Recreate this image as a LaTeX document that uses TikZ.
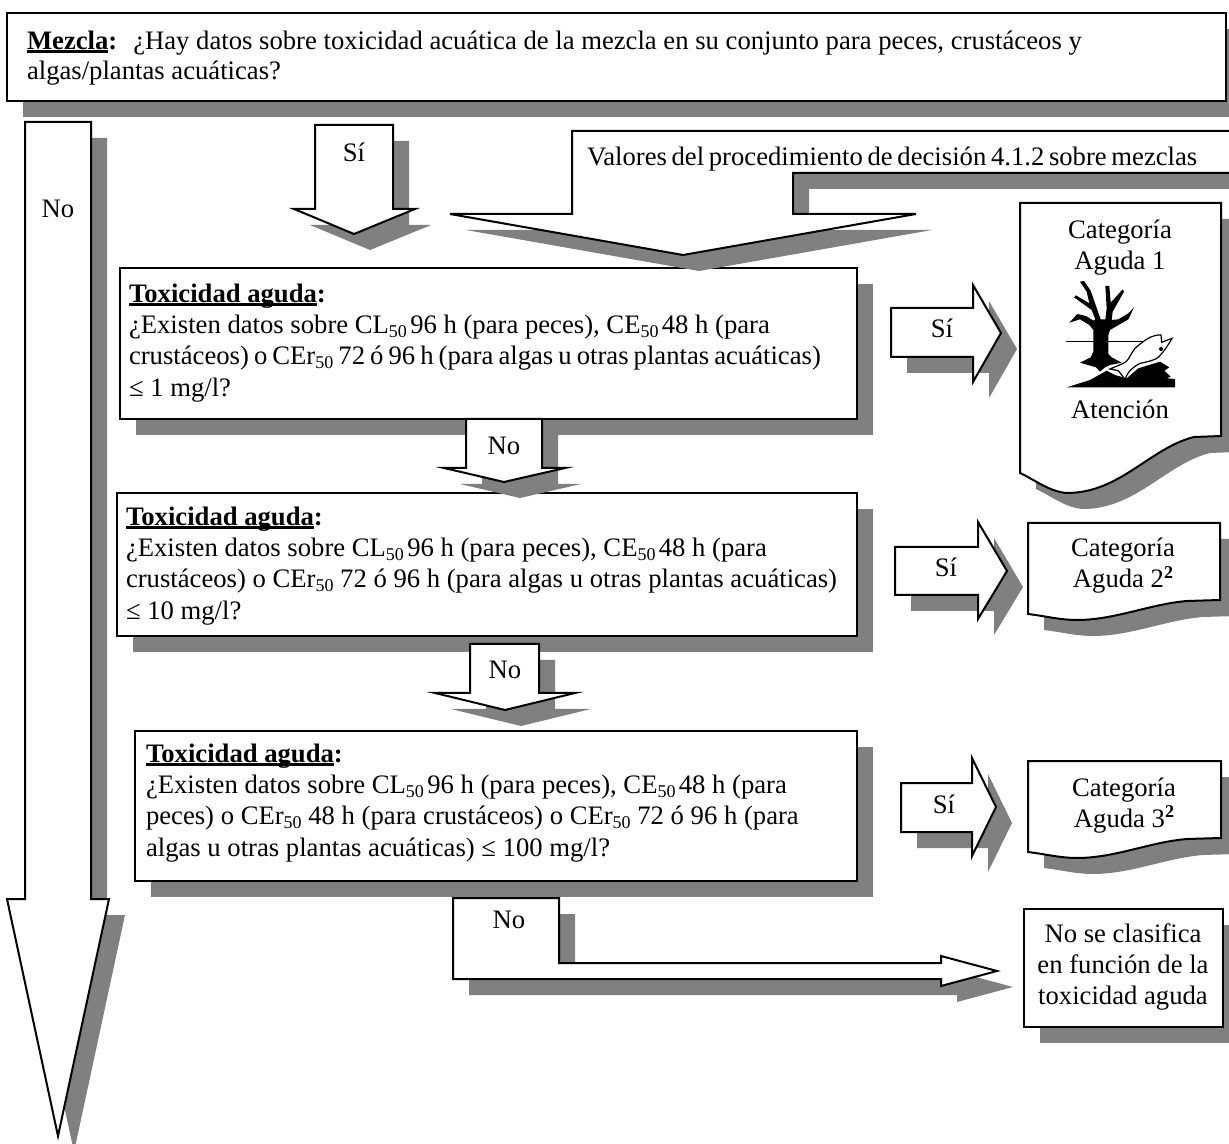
\documentclass[tikz,border=0pt]{standalone}
\usepackage{fontspec}
\setmainfont{Liberation Serif}
\definecolor{shadowc}{RGB}{128,128,128}
\newcommand{\subn}[1]{\raisebox{-0.32ex}{\fontsize{13.5}{13.5}\selectfont #1}}
\newcommand{\supb}[1]{\raisebox{0.8ex}{\fontsize{13.5}{13.5}\selectfont\bfseries #1}}
\newsavebox{\ulbox}
\newcommand{\ulb}[1]{\sbox{\ulbox}{\textbf{#1}}\rlap{\raisebox{-2.3pt}{\rule{\wd\ulbox}{1.8pt}}}\usebox{\ulbox}}
\newcommand{\tox}{\ulb{Toxicidad aguda}\textbf{:}}
\newcommand{\nsp}{\hspace{2.5pt}}
\newcommand{\shadowed}[1]{\fill[shadowc,shift={(16,16)}] #1; \filldraw[shapeline] #1;}
\tikzset{
  shapeline/.style={draw=black,fill=white,line width=1.5pt,line join=miter},
  txt/.style={inner sep=0pt,outer sep=0pt,font=\fontsize{20}{23.4}\selectfont},
  para/.style={txt,align=left,anchor=north west},
  lab/.style={txt,anchor=base,align=center},
}
\begin{document}
\begin{tikzpicture}[x=0.75pt,y=-0.75pt]
\useasboundingbox (0,0) rectangle (1229,1144);
\clip (0,0) rectangle (1229,1144);
\fill[white] (0,0) rectangle (1229,1144);
% boxes
\shadowed{(7,13) rectangle (1226,101)}
\shadowed{(120,268) rectangle (857,419)}
\shadowed{(117,493) rectangle (857,636)}
\shadowed{(135,731) rectangle (857,881)}
\shadowed{(1024,909) rectangle (1223,1027)}
% documents
\shadowed{(1020,203) -- (1221,203) -- (1221,436) -- (1194,437) .. controls (1150,448) and (1120,493) .. (1067,493) .. controls (1050,492) and (1035,480) .. (1020,473) -- cycle}
\shadowed{(1028,523) -- (1220,523) -- (1220,600) -- (1187,601) .. controls (1150,604) and (1115,620) .. (1077,620) .. controls (1060,620) and (1045,616) .. (1028,614) -- cycle}
\shadowed{(1028,761) -- (1221,761) -- (1221,838) -- (1187,839) .. controls (1150,842) and (1115,858) .. (1077,858) .. controls (1060,858) and (1045,854) .. (1028,852) -- cycle}
% arrows
\shadowed{(25,122) -- (91,122) -- (91,899) -- (109,899) -- (58,1136) -- (7,899) -- (25,899) -- cycle}
\shadowed{(315,125) -- (393,125) -- (393,209) -- (415,209) -- (354,234) -- (294,209) -- (315,209) -- cycle}
\fill[shadowc,shift={(16,16)}] (1250,131) -- (572,131) -- (572,214) -- (450,214) -- (683,255) -- (916,214) -- (793,214) -- (793,173) -- (1250,173) -- cycle;
\filldraw[shapeline] (1240,131) -- (572,131) -- (572,214) -- (450,214) -- (683,255) -- (916,214) -- (793,214) -- (793,173) -- (1240,173);
\shadowed{(466,419) -- (542,419) -- (542,468) -- (565,468) -- (504,482) -- (444,468) -- (466,468) -- cycle}
\shadowed{(470,644) -- (539,644) -- (539,693) -- (575,693) -- (505,710) -- (435,693) -- (470,693) -- cycle}
\shadowed{(453,898) -- (559,898) -- (559,963) -- (941,963) -- (941,956) -- (997,971) -- (941,986) -- (941,979) -- (453,979) -- cycle}
\shadowed{(891,308) -- (973,308) -- (973,285) -- (1001,333) -- (973,382) -- (973,357) -- (891,357) -- cycle}
\shadowed{(895,547) -- (978,547) -- (978,522) -- (1007,571) -- (978,619) -- (978,595) -- (895,595) -- cycle}
\shadowed{(901,783) -- (972,783) -- (972,758) -- (996,807) -- (972,856) -- (972,832) -- (901,832) -- cycle}
% pictogram
\begin{scope}[shift={(1060,280)},scale=1/3]
\fill[black] (120,275) -- (108,262) -- (60,248) -- (92,232) -- (100,215) -- (100,150) -- (88,135) -- (60,118) -- (28,128) -- (52,102) -- (78,108) -- (100,122) -- (106,118) -- (95,90) -- (42,52) -- (48,46) -- (88,70) -- (80,35) -- (60,5) -- (72,3) -- (92,32) -- (108,78) -- (122,118) -- (136,118) -- (140,85) -- (136,18) -- (148,18) -- (152,68) -- (188,28) -- (192,35) -- (158,95) -- (155,120) -- (175,118) -- (205,100) -- (222,82) -- (205,118) -- (150,150) -- (145,165) -- (145,222) -- (155,232) -- (185,248) -- (150,255) -- (135,262) -- cycle;
\draw[black,line width=1.2pt] (18,185) -- (255,185);
\fill[black] (20,322) -- (90,300) -- (140,272) -- (165,285) -- (200,295) -- (235,265) -- (300,245) -- (328,262) -- (313,272) -- (332,290) -- (320,295) -- (345,297) -- (345,322) -- cycle;
\filldraw[draw=black,fill=white,line width=0.9pt] (303,165) .. controls (280,163) and (255,178) .. (225,205) .. controls (210,225) and (205,245) .. (190,250) -- (150,267) -- (175,272) -- (195,298) .. controls (205,270) and (225,258) .. (240,250) .. controls (265,245) and (285,240) .. (295,232) .. controls (315,210) and (325,195) .. (336,175) -- (305,187) -- cycle;
\fill[black] (303,207) circle (6);
\end{scope}
% texts
\node[para] (t0) at (27,31) {\ulb{Mezcla}\textbf{:}\hspace{12pt}¿Hay datos sobre toxicidad acuática de la mezcla en su conjunto para peces, crustáceos y\\[-0.75pt]algas/plantas acuáticas?};
\node[para] (t1) at (129,284) {\tox\\¿Existen datos sobre CL\subn{50}\nsp 96 h (para peces), CE\subn{50}\nsp 48 h (para\\{\spaceskip=3.8pt plus 1pt crustáceos) o CEr\subn{50} 72 ó 96 h (para algas u otras plantas acuáticas)}\\≤ 1 mg/l?};
\node[para] (t2) at (126,507) {\tox\\¿Existen datos sobre CL\subn{50}\nsp 96 h (para peces), CE\subn{50}\nsp 48 h (para\\crustáceos) o CEr\subn{50} 72 ó 96 h (para algas u otras plantas acuáticas)\\≤ 10 mg/l?};
\node[para] (t3) at (146,744) {\tox\\¿Existen datos sobre CL\subn{50}\nsp 96 h (para peces), CE\subn{50}\nsp 48 h (para\\peces) o CEr\subn{50} 48 h (para crustáceos) o CEr\subn{50} 72 ó 96 h (para\\algas u otras plantas acuáticas) ≤ 100 mg/l?};
\node[lab] (a0) at (58,218) {No};
\node[lab] (a1) at (354,162) {Sí};
\node[lab,anchor=base west] (a2) at (587,166) {\spaceskip=3.5pt plus 1pt Valores del procedimiento de decisión 4.1.2 sobre mezclas};
\node[lab] (a3) at (504,455) {No};
\node[lab] (a4) at (505,679) {No};
\node[lab] (a5) at (509,928) {No};
\node[lab] (s1) at (942,338) {Sí};
\node[lab] (s2) at (946,577) {Sí};
\node[lab] (s3) at (944,813) {Sí};
\node[lab] (c1a) at (1120,239) {Categoría};
\node[lab] (c1b) at (1120,270) {Aguda 1};
\node[lab] (c1c) at (1120,419) {Atención};
\node[lab] (c2a) at (1123,557) {Categoría};
\node[lab] (c2b) at (1123,588) {Aguda 2\supb{2}};
\node[lab] (c3a) at (1124,796) {Categoría};
\node[lab] (c3b) at (1124,827) {Aguda 3\supb{2}};
\node[lab] (n1) at (1123,942) {No se clasifica};
\node[lab] (n2) at (1123,973) {en función de la};
\node[lab] (n3) at (1123,1004) {toxicidad aguda};
\end{tikzpicture}
\end{document}
